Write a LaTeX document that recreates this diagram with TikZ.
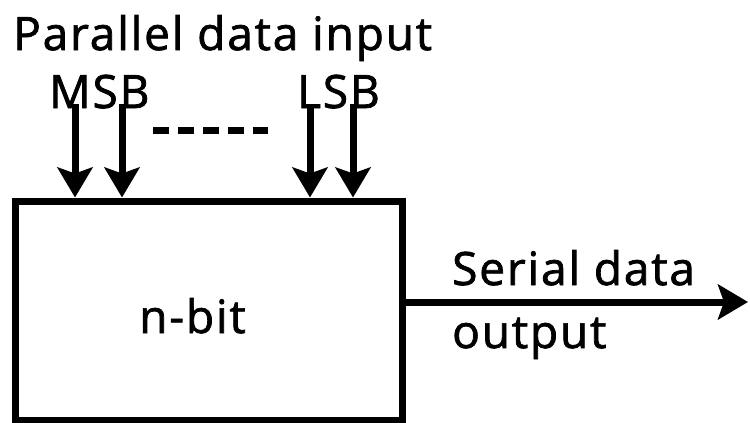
\documentclass[tikz,border=0pt]{standalone}
\usepackage{fontspec}
\setmainfont{Open Sans}
\newfontfamily\lblfont{Open Sans}[LetterSpace=4,FakeBold=1.6]
\usetikzlibrary{arrows.meta}
\begin{document}
\begin{tikzpicture}[x=1pt,y=-1pt,
  lbl/.style={font=\lblfont\fontsize{46}{50}\selectfont, inner sep=0pt, anchor=base west},
  wire/.style={line width=7pt, -{Stealth[length=30pt,width=35pt,inset=6pt]}},
  regbox/.style={draw, line width=7pt, minimum width=387pt, minimum height=219pt, inner sep=0pt}]
  \useasboundingbox (0,0) rectangle (750,423);
  % shift register block
  \node[regbox] (reg) at (208.5,310.5) {};
  \node[lbl] (nbit) at (139,333) {n-bit};
  % parallel inputs
  \node[lbl] (title) at (13,50) {Parallel data input};
  \node[lbl] (msb) at (49,108) {MSB};
  \node[lbl] (lsb) at (297,108) {LSB};
  \coordinate (i1) at (75,104);
  \coordinate (i2) at (122,104);
  \coordinate (i3) at (310,104);
  \coordinate (i4) at (353,104);
  \foreach \c in {i1,i2,i3,i4}
    \draw[wire] (\c) -- (\c |- reg.north);
  \coordinate (d1) at (153,130);
  \coordinate (d2) at (268,130);
  \draw[line width=7pt, dash pattern=on 16pt off 9pt] (d1) -- (d2);
  % serial output
  \coordinate (out) at (748,302);
  \draw[wire] (reg.east |- out) -- (out);
  \node[lbl] (ser) at (452,285) {Serial data};
  \node[lbl] (outp) at (452,348) {output};
\end{tikzpicture}
\end{document}
